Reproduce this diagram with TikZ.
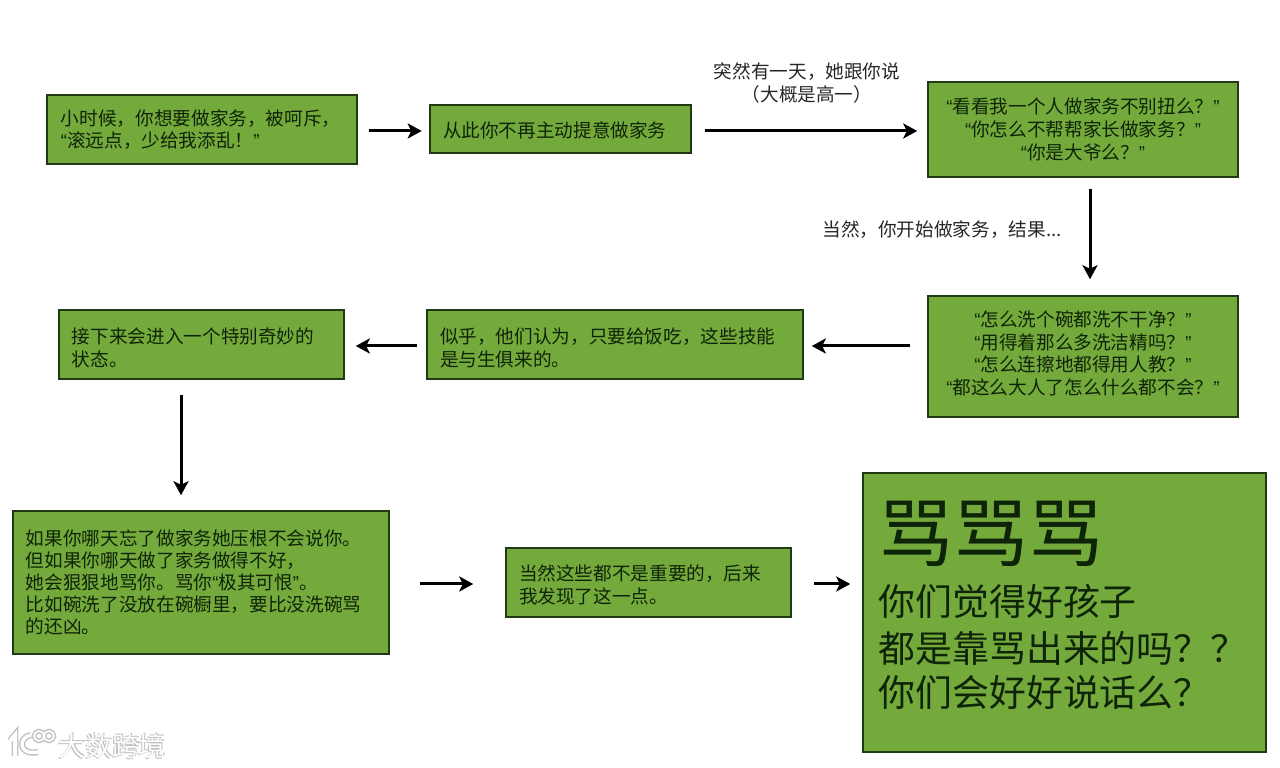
\documentclass[tikz,border=0pt]{standalone}
\usepackage{fontspec}
\setmainfont{Noto Sans CJK SC}
\newfontfamily\quotefont{Liberation Sans}
\usetikzlibrary{arrows.meta}

\definecolor{boxgreen}{HTML}{74A93B}
\definecolor{boxline}{HTML}{1F3A14}
\definecolor{boxtext}{HTML}{0E2408}

\newcommand{\lquote}{{\quotefont “}}
\newcommand{\rquote}{{\quotefont ”}}
\newcommand{\topstrut}[1]{\rule{0pt}{#1}}

\tikzset{
    greenbox/.style={draw=boxline,fill=boxgreen,line width=.3mm,text=boxtext,inner sep=0pt,
        font=\fontsize{10.6pt}{12.9pt}\selectfont},
    leftbox/.style={greenbox,align=left},
    midbox/.style={greenbox,align=center},
    flowarrow/.style={line width=.6mm,-{Stealth[length=2.8mm,width=3mm,inset=.7mm]}},
    flowlabel/.style={align=center,text=black!85,font=\fontsize{10.6pt}{13pt}\selectfont},
}

\begin{document}
\begin{tikzpicture}[x=.2mm,y=-.2mm]
        \useasboundingbox (0,0) rectangle (1280,768);

        % 第一行
        \node[leftbox,minimum width=62mm,minimum height=13.8mm,text width=56.4mm] (childhood) at (202,129.5)
            {小时候，你想要做家务，被呵斥，\\\lquote 滚远点，少给我添乱！\rquote};
        \node[leftbox,minimum width=52.2mm,minimum height=9.6mm,text width=47mm] (noinitiative) at (560.5,129)
            {\topstrut{10.5pt}从此你不再主动提意做家务};
        \node[midbox,minimum width=62mm,minimum height=19mm] (remarks) at (1083,129.5)
            {\lquote 看看我一个人做家务不别扭么？\rquote\\\lquote 你怎么不帮帮家长做家务？\rquote\\\lquote 你是大爷么？\rquote};

        % 第二行
        \node[midbox,minimum width=62mm,minimum height=24.2mm] (scolding) at (1083,356.5)
            {\lquote 怎么洗个碗都洗不干净？\rquote\\\lquote 用得着那么多洗洁精吗？\rquote\\\lquote 怎么连擦地都得用人教？\rquote\\\lquote 都这么大人了怎么什么都不会？\rquote\\[-8.5pt]\mbox{}};
        \node[leftbox,minimum width=75.2mm,minimum height=13.8mm,text width=70mm] (inborn) at (615,344.5)
            {\topstrut{12.5pt}似乎，他们认为，只要给饭吃，这些技能\\是与生俱来的。};
        \node[leftbox,minimum width=57mm,minimum height=13.8mm,text width=51.8mm] (strange) at (201.5,344.5)
            {\topstrut{12.5pt}接下来会进入一个特别奇妙的\\状态。};

        % 第三行
        \node[leftbox,minimum width=75.2mm,minimum height=28.6mm,text width=70mm,
            font=\fontsize{10.6pt}{12.5pt}\selectfont] (forget) at (201,582.5)
            {如果你哪天忘了做家务她压根不会说你。\\但如果你哪天做了家务做得不好，\\她会狠狠地骂你。骂你\lquote 极其可恨\rquote。\\\mbox{比如碗洗了没放在碗橱里，要比没洗碗骂}\\的还凶。};
        \node[leftbox,minimum width=57mm,minimum height=13.8mm,text width=51.8mm] (notimportant) at (648.5,582.5)
            {\topstrut{11.5pt}当然这些都不是重要的，后来\\我发现了这一点。};
        \node[leftbox,minimum width=80.6mm,minimum height=55.8mm,text width=74.4mm,
            font=\fontsize{21pt}{25pt}\selectfont] (curse) at (1064.5,612.5)
            {{\fontsize{42.8pt}{52pt}\selectfont 骂骂骂}\\[5.7pt]
            你们觉得好孩子\\[1.7pt]都是靠骂出来的吗？？\\你们会好好说话么？\\[-14.9pt]\mbox{}};

        % 箭头上的文字
        \node[flowlabel] (oneday) at (807,83) {突然有一天，她跟你说\\（大概是高一）};
        \node[flowlabel] (ofcourse) at (942,230) {当然，你开始做家务，结果...};

        % 箭头
        \draw[flowarrow,shorten <=2.2mm,shorten >=1.5mm] ([yshift=-.4mm]childhood.east |- noinitiative.east) -- ([yshift=-.4mm]noinitiative.west);
        \draw[flowarrow,shorten <=2.6mm,shorten >=2mm] ([yshift=-.4mm]noinitiative.east) -- ([yshift=-.4mm]remarks.west |- noinitiative.east);
        \draw[flowarrow,shorten <=2.2mm,shorten >=3.2mm] ([xshift=1.4mm]remarks.south) -- ([xshift=1.4mm]scolding.north);
        \draw[flowarrow,shorten <=3.4mm,shorten >=1.6mm] ([yshift=-.3mm]scolding.west |- inborn.east) -- ([yshift=-.3mm]inborn.east);
        \draw[flowarrow,shorten <=1.8mm,shorten >=2.2mm] ([yshift=-.3mm]inborn.west) -- ([yshift=-.3mm]strange.east);
        \draw[flowarrow,shorten <=3mm,shorten >=3mm] ([xshift=-4.1mm]strange.south) -- ([xshift=-4.1mm]strange.south |- forget.north);
        \draw[flowarrow,shorten <=6mm,shorten >=6.4mm] ([yshift=-.3mm]forget.east |- notimportant.west) -- ([yshift=-.3mm]notimportant.west);
        \draw[flowarrow,shorten <=4.4mm,shorten >=2.4mm] ([yshift=-.3mm]notimportant.east) -- ([yshift=-.3mm]curse.west |- notimportant.east);

        % 水印
        \foreach \extra/\c in {.55/black!25,0/white} {
            \draw[\c,line width=.8mm+\extra mm] (10,741) -- (15,735) -- (15,756);
            \draw[\c,line width=.7mm+\extra mm] (31,735) .. controls (18,737) and (18,756) .. (38,752);
            \draw[\c,line width=.35mm+\extra mm] (39,736) circle (5);
            \draw[\c,line width=.35mm+\extra mm] (49,736) circle (5);
        }
        \foreach \dx/\c in {.2/black!25,-.2/black!25,0/white} {
            \node[text=\c,font=\fontsize{15.3pt}{15pt}\selectfont,xshift=\dx mm,yshift=\dx mm] (mark\dx) at (112,746) {大数跨境};
        }
    \end{tikzpicture}
\end{document}
